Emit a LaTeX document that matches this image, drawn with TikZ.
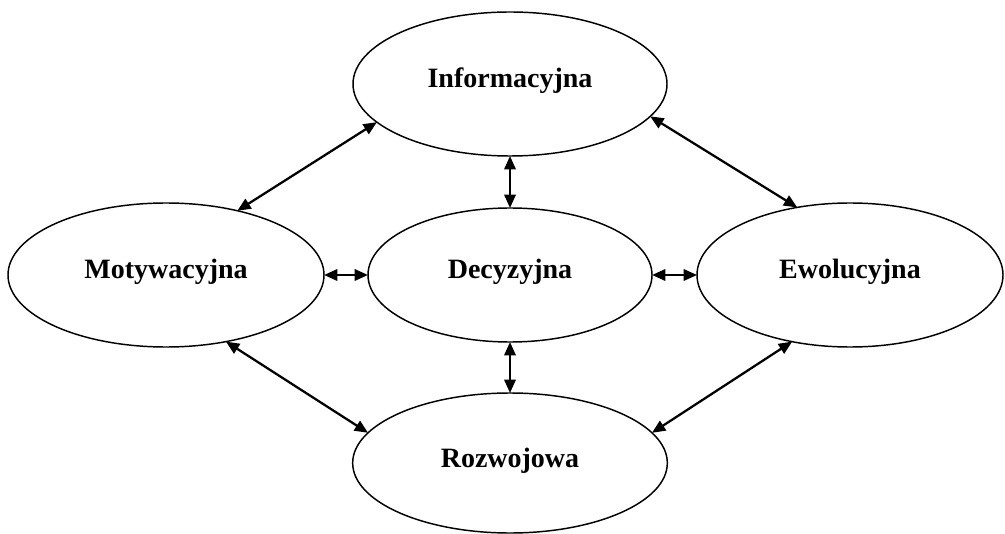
\documentclass[tikz,border=0pt]{standalone}
\usepackage{fontspec}
\setmainfont{Liberation Serif}
\usepackage{tikz}
\usetikzlibrary{shapes.geometric,arrows.meta}
\tikzset{
  oval/.style={draw, ellipse, line width=1.1pt, inner sep=0pt, outer sep=0pt,
    font=\fontsize{21}{25}\selectfont\bfseries, text height=17pt, text depth=11pt},
  link/.style={draw, line width=1.7pt,
    {Triangle[length=10pt,width=8.5pt]}-{Triangle[length=10pt,width=8.5pt]}},
}

\begin{document}
\begin{tikzpicture}[x=0.75pt,y=-0.75pt]
\useasboundingbox (0,0) rectangle (1005,534);
% Ellipses
\node[oval, minimum width=235.5pt, minimum height=108pt] (info) at (510,84) {Informacyjna};
\node[oval, minimum width=237pt, minimum height=108pt] (mot) at (166,275) {Motywacyjna};
\node[oval, minimum width=213pt, minimum height=100.5pt] (dec) at (510,275) {Decyzyjna};
\node[oval, minimum width=229.5pt, minimum height=108pt] (ewo) at (850,275) {Ewolucyjna};
\node[oval, minimum width=236pt, minimum height=105pt] (roz) at (510,463) {Rozwojowa};

% Connectors
\draw[link] (info.196) -- (mot.42);
\draw[link] (info.347) -- (ewo.128);
\draw[link] (info.south) -- (dec.north);
\draw[link] (mot.east) -- (dec.west);
\draw[link] (dec.east) -- (ewo.west);
\draw[link] (dec.south) -- (roz.north);
\draw[link] (mot.312) -- (roz.168);
\draw[link] (ewo.229) -- (roz.12);
\end{tikzpicture}
\end{document}
